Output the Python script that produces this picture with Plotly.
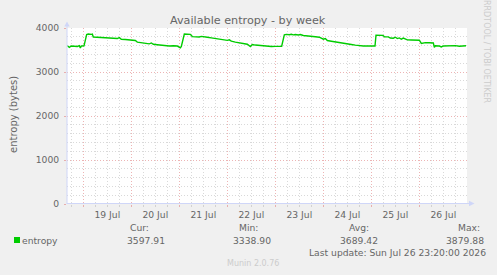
import plotly.graph_objects as go

# ---- data ----
times = [
    "2026-07-18 16:00", "2026-07-18 17:00", "2026-07-18 18:00", "2026-07-18 20:00",
    "2026-07-18 21:00", "2026-07-18 22:00", "2026-07-18 22:30", "2026-07-18 23:00",
    "2026-07-19 00:20", "2026-07-19 01:40", "2026-07-19 02:30", "2026-07-19 04:00",
    "2026-07-19 04:30", "2026-07-19 05:00", "2026-07-19 07:00", "2026-07-19 09:00",
    "2026-07-19 11:00", "2026-07-19 13:00", "2026-07-19 15:00", "2026-07-19 17:00",
    "2026-07-19 18:00", "2026-07-19 19:00", "2026-07-19 21:00", "2026-07-19 23:00",
    "2026-07-20 01:00", "2026-07-20 02:00", "2026-07-20 03:00", "2026-07-20 05:00",
    "2026-07-20 07:00", "2026-07-20 09:00", "2026-07-20 10:00", "2026-07-20 11:00",
    "2026-07-20 13:00", "2026-07-20 15:00", "2026-07-20 17:00", "2026-07-20 19:00",
    "2026-07-20 21:00", "2026-07-20 23:00", "2026-07-21 00:30", "2026-07-21 01:00",
    "2026-07-21 02:30", "2026-07-21 04:00", "2026-07-21 05:30", "2026-07-21 06:30",
    "2026-07-21 08:00", "2026-07-21 10:00", "2026-07-21 11:00", "2026-07-21 12:00",
    "2026-07-21 14:00", "2026-07-21 16:00", "2026-07-21 18:00", "2026-07-21 20:00",
    "2026-07-21 22:00", "2026-07-22 00:00", "2026-07-22 01:00", "2026-07-22 02:00",
    "2026-07-22 04:00", "2026-07-22 06:00", "2026-07-22 08:00", "2026-07-22 10:00",
    "2026-07-22 11:30", "2026-07-22 12:30", "2026-07-22 14:00", "2026-07-22 16:00",
    "2026-07-22 18:00", "2026-07-22 20:00", "2026-07-22 22:00", "2026-07-23 00:00",
    "2026-07-23 02:00", "2026-07-23 03:10", "2026-07-23 04:30", "2026-07-23 05:30",
    "2026-07-23 07:00", "2026-07-23 08:00", "2026-07-23 09:00", "2026-07-23 10:00",
    "2026-07-23 11:30", "2026-07-23 12:30", "2026-07-23 14:00", "2026-07-23 16:00",
    "2026-07-23 18:00", "2026-07-23 20:00", "2026-07-23 22:00", "2026-07-24 00:00",
    "2026-07-24 01:00", "2026-07-24 02:00", "2026-07-24 04:00", "2026-07-24 06:00",
    "2026-07-24 08:00", "2026-07-24 10:00", "2026-07-24 12:00", "2026-07-24 14:00",
    "2026-07-24 16:00", "2026-07-24 18:00", "2026-07-24 20:00", "2026-07-24 22:00",
    "2026-07-25 00:00", "2026-07-25 01:50", "2026-07-25 02:20", "2026-07-25 04:00",
    "2026-07-25 05:50", "2026-07-25 06:30", "2026-07-25 08:30", "2026-07-25 09:30",
    "2026-07-25 11:00", "2026-07-25 12:00", "2026-07-25 13:00", "2026-07-25 14:00",
    "2026-07-25 15:00", "2026-07-25 16:00", "2026-07-25 18:00", "2026-07-25 20:00",
    "2026-07-25 22:00", "2026-07-26 00:00", "2026-07-26 01:00", "2026-07-26 03:00",
    "2026-07-26 05:00", "2026-07-26 07:00", "2026-07-26 07:30", "2026-07-26 08:00",
    "2026-07-26 10:00", "2026-07-26 11:00", "2026-07-26 12:00", "2026-07-26 14:00",
    "2026-07-26 16:00", "2026-07-26 18:00", "2026-07-26 20:00", "2026-07-26 22:00",
    "2026-07-26 23:20",
]
entropy = [
    3598, 3560, 3592, 3588,
    3580, 3600, 3545, 3590,
    3595, 3850, 3862, 3855,
    3860, 3795, 3790, 3785,
    3780, 3775, 3772, 3760,
    3780, 3745, 3738, 3725,
    3705, 3715, 3680, 3672,
    3655, 3640, 3660, 3630,
    3620, 3605, 3600, 3592,
    3595, 3590, 3548, 3580,
    3862, 3858, 3855, 3805,
    3800, 3795, 3810, 3798,
    3790, 3775, 3760, 3742,
    3735, 3718, 3730, 3700,
    3680, 3668, 3650, 3630,
    3580, 3625, 3612, 3600,
    3590, 3585, 3578, 3582,
    3576, 3585, 3845, 3855,
    3848, 3858, 3845, 3852,
    3840, 3852, 3830, 3815,
    3805, 3800, 3790, 3745,
    3760, 3715, 3700, 3688,
    3668, 3650, 3640, 3625,
    3610, 3595, 3590, 3592,
    3588, 3590, 3835, 3834,
    3832, 3800, 3798, 3772,
    3768, 3790, 3760, 3775,
    3745, 3770, 3730, 3728,
    3725, 3722, 3650, 3668,
    3665, 3660, 3560, 3595,
    3590, 3570, 3592, 3598,
    3590, 3600, 3585, 3592,
    3598,
]
series_name = "entropy"
stat_labels = ["Cur:", "Min:", "Avg:", "Max:"]
stat_values = ["3597.91", "3338.90", "3689.42", "3879.88"]
title_text = "Available entropy - by week"
y_title = "entropy (bytes)"
last_update = "Last update: Sun Jul 26 23:20:00 2026"
footer = "Munin 2.0.76"
side_text = "RRDTOOL / TOBI OETIKER"
x_range = ["2026-07-18 15:50", "2026-07-26 23:50"]
y_range = [0, 4000]

# ---- layout helpers (pixel -> paper) ----
L, R, T, B = 67, 467, 28, 204
W, H = 497, 275


def px(x):
    return (x - L) / (R - L)


def py(y):
    return (B - y) / (B - T)


FONT = "DejaVu Sans"
FC = "#666666"
GREEN = "#00CC00"
AXC = "#CFD6F8"
MAJ = "rgba(225,130,130,0.6)"
MIN = "rgba(170,170,170,0.45)"

fig = go.Figure()
fig.add_trace(go.Scatter(x=times, y=entropy, mode="lines",
                         line=dict(color=GREEN, width=1.4), hoverinfo="skip",
                         showlegend=False))

fig.update_layout(
    width=W, height=H,
    margin=dict(l=L, r=W - R, t=T, b=H - B, pad=0),
    paper_bgcolor="#F0F0F0", plot_bgcolor="#FFFFFF",
    font=dict(family=FONT, size=9.2, color=FC),
    showlegend=False,
)
fig.update_xaxes(
    type="date", range=x_range, tick0="2026-07-19", dtick=86400000,
    tickformat="%d %b", ticklabelmode="period",
    showgrid=True, gridcolor=MAJ, griddash="1px,2px", gridwidth=1,
    ticks="outside", ticklen=2, tickcolor=MAJ,
    minor=dict(dtick=6 * 3600000, showgrid=True, gridcolor=MIN,
               griddash="1px,2px", gridwidth=1, ticks="outside", ticklen=2,
               tickcolor=MIN),
    showline=False, zeroline=False, fixedrange=True,
    tickfont=dict(family=FONT, size=9.2, color=FC),
)
fig.update_yaxes(
    range=y_range, dtick=1000, tick0=0,
    showgrid=True, gridcolor=MAJ, griddash="1px,2px", gridwidth=1,
    ticks="outside", ticklen=2, tickcolor=MAJ,
    minor=dict(dtick=200, showgrid=True, gridcolor=MIN,
               griddash="1px,2px", gridwidth=1),
    showline=False, zeroline=False, fixedrange=True,
    tickfont=dict(family=FONT, size=9.2, color=FC),
    ticklabelstandoff=3,
)

shapes = [
    dict(type="line", xref="paper", yref="paper", x0=px(67), x1=px(470),
         y0=py(203.5), y1=py(203.5), line=dict(color=AXC, width=1)),
    dict(type="line", xref="paper", yref="paper", x0=px(67), x1=px(67),
         y0=py(204), y1=py(26), line=dict(color=AXC, width=1)),
    dict(type="path", xref="paper", yref="paper",
         path=f"M {px(67)} {py(21.5)} L {px(64.3)} {py(26.5)} L {px(69.7)} {py(26.5)} Z",
         fillcolor=AXC, line=dict(width=0)),
    dict(type="path", xref="paper", yref="paper",
         path=f"M {px(474.5)} {py(203.5)} L {px(469)} {py(200.8)} L {px(469)} {py(206.2)} Z",
         fillcolor=AXC, line=dict(width=0)),
    dict(type="rect", xref="paper", yref="paper", x0=px(14), x1=px(20),
         y0=py(243), y1=py(237), fillcolor=GREEN, line=dict(width=0)),
]
fig.update_layout(shapes=shapes)


def ann(text, x, y, size=9.2, color=FC, xanchor="left", angle=0):
    fig.add_annotation(text=text, xref="paper", yref="paper", x=px(x), y=py(y),
                       xanchor=xanchor, yanchor="middle", showarrow=False,
                       textangle=angle, font=dict(family=FONT, size=size, color=color))


ann(title_text, 248, 20.5, size=11.2, xanchor="center")
ann(y_title, 14, 115, size=10, xanchor="center", angle=-90)
ann(side_text, 487, 51, size=8, color="#CCCCCC", xanchor="center", angle=90)
ann(series_name, 20, 240)
label_left = [128, 237, 347, 456]
value_left = [125, 231, 338, 444]
for lab, val, lx, vx in zip(stat_labels, stat_values, label_left, value_left):
    ann(lab, lx, 227)
    ann(val, vx, 240)
ann(last_update, 307, 252)
ann(footer, 225, 263, size=8, color="#CCCCCC")

fig.write_html("out.html", config={"displayModeBar": False, "staticPlot": True})
